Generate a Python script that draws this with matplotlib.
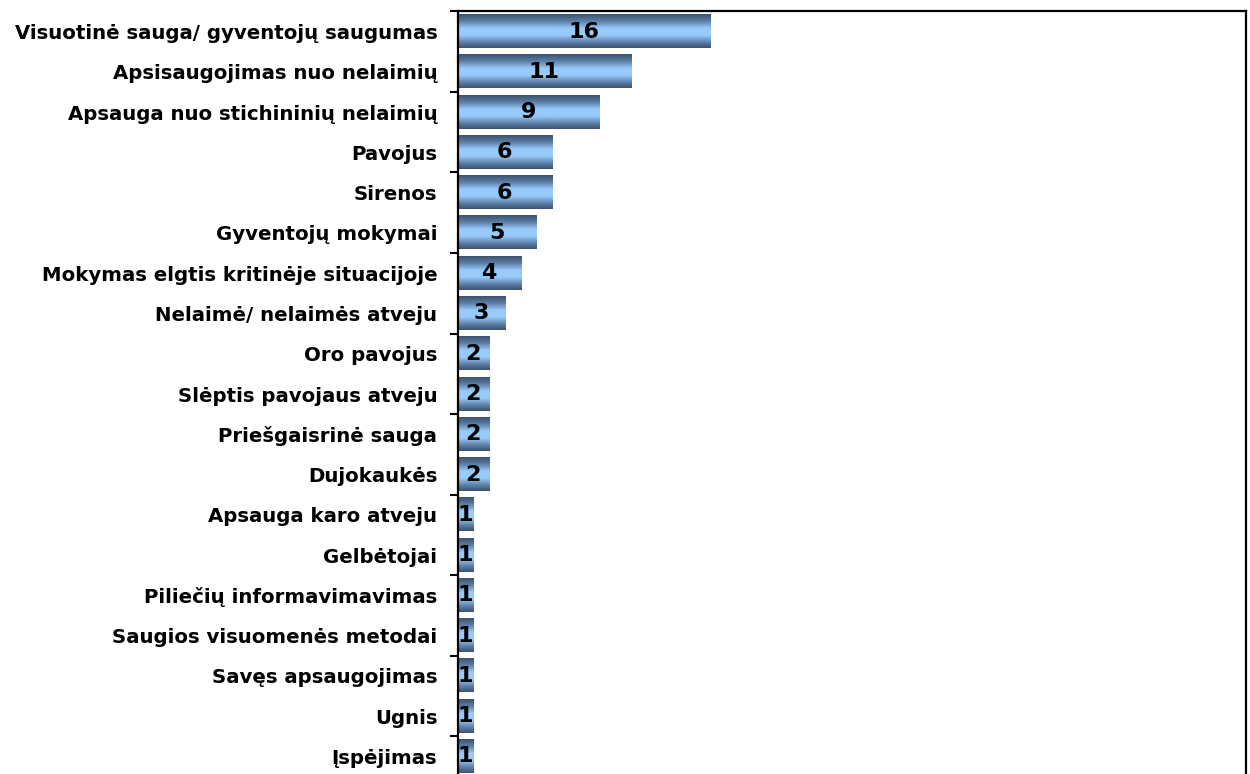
import numpy as np
import matplotlib
matplotlib.use("Agg")
import matplotlib.pyplot as plt
from matplotlib.colors import LinearSegmentedColormap

categories = [
    "Visuotinė sauga/ gyventojų saugumas",
    "Apsisaugojimas nuo nelaimių",
    "Apsauga nuo stichininių nelaimių",
    "Pavojus",
    "Sirenos",
    "Gyventojų mokymai",
    "Mokymas elgtis kritinėje situacijoje",
    "Nelaimė/ nelaimės atveju",
    "Oro pavojus",
    "Slėptis pavojaus atveju",
    "Priešgaisrinė sauga",
    "Dujokaukės",
    "Apsauga karo atveju",
    "Gelbėtojai",
    "Piliečių informavimavimas",
    "Saugios visuomenės metodai",
    "Savęs apsaugojimas",
    "Ugnis",
    "Įspėjimas",
]
values = [16, 11, 9, 6, 6, 5, 4, 3, 2, 2, 2, 2, 1, 1, 1, 1, 1, 1, 1]

W, H = 1250, 774
fig = plt.figure(figsize=(W / 100, H / 100), dpi=100)
ax = fig.add_axes([457.5 / W, 1 - 776.6 / H, (1246 - 457.5) / W, 765.2 / H])

y = np.arange(len(categories))
bar_h = 0.82
bars = ax.barh(y, values, height=bar_h, color="none", edgecolor="none", zorder=2)

# vertical "cylinder" shading: dark edges, light blue centre
shade = LinearSegmentedColormap.from_list(
    "shade",
    [(0.0, "#3b526d"), (0.2, "#5a7ca3"), (0.42, "#98cbfc"),
     (0.62, "#98cbfc"), (0.84, "#5a7ca3"), (1.0, "#3b526d")],
)
grad = np.linspace(0, 1, 256).reshape(-1, 1)
for b in bars:
    x0, x1 = b.get_x(), b.get_x() + b.get_width()
    y0, y1 = b.get_y(), b.get_y() + b.get_height()
    ax.imshow(grad, cmap=shade, aspect="auto", extent=[x0, x1, y1, y0],
              interpolation="bilinear", zorder=2)

ax.bar_label(bars, labels=[f"{v:d}" for v in values], label_type="center",
             fontsize=16, fontweight="bold", color="black", zorder=3)

ax.set_xlim(0, 50)
ax.set_ylim(len(categories) - 0.5, -0.5)

ax.set_yticks(y)
ax.set_yticklabels(categories, fontsize=14.2, fontweight="bold")
ax.tick_params(axis="y", which="major", length=0, pad=14.5)
ax.set_yticks(np.arange(-0.5, len(categories) - 0.5, 2), minor=True)
ax.tick_params(axis="y", which="minor", length=6, width=1.5, direction="out")
ax.set_xticks([])

for side in ("left", "top", "right"):
    ax.spines[side].set_linewidth(1.6)
    ax.spines[side].set_color("black")
ax.spines["bottom"].set_visible(False)

fig.savefig("out.png", dpi=100)
